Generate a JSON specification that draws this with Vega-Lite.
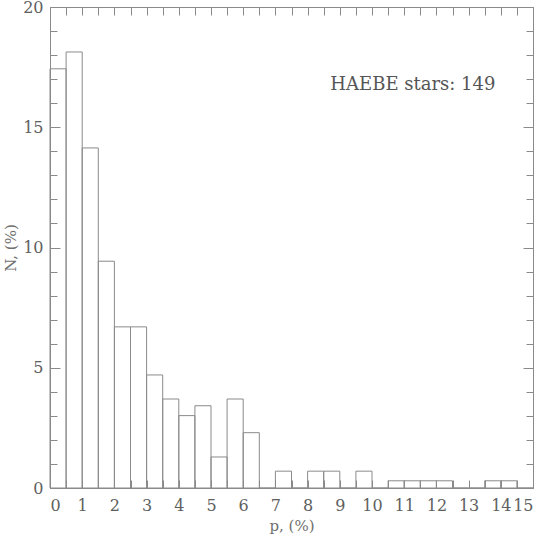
{
  "$schema": "https://vega.github.io/schema/vega-lite/v6.json",
  "autosize": "none",
  "width": 483,
  "height": 481,
  "padding": {"left": 50, "top": 7, "right": 10, "bottom": 49},
  "background": "white",
  "config": {
    "view": {"stroke": "#8a8a8a", "strokeWidth": 1},
    "axis": {"domain": false, "labelOverlap": false, "labelBound": false, "tickColor": "#8a8a8a", "gridColor": "#8a8a8a", "gridOpacity": 1, "gridWidth": 1, "labelColor": "#606060", "titleColor": "#707070", "labelFont": "DejaVu Serif", "titleFont": "DejaVu Serif", "labelFontWeight": "normal", "titleFontWeight": "normal"}
  },
  "data": {"values": [
    {"lo": 0.0, "hi": 0.5, "n": 17.43},
    {"lo": 0.5, "hi": 1.0, "n": 18.13},
    {"lo": 1.0, "hi": 1.5, "n": 14.14},
    {"lo": 1.5, "hi": 2.0, "n": 9.43},
    {"lo": 2.0, "hi": 2.5, "n": 6.70},
    {"lo": 2.5, "hi": 3.0, "n": 6.70},
    {"lo": 3.0, "hi": 3.5, "n": 4.70},
    {"lo": 3.5, "hi": 4.0, "n": 3.70},
    {"lo": 4.0, "hi": 4.5, "n": 3.01},
    {"lo": 4.5, "hi": 5.0, "n": 3.42},
    {"lo": 5.0, "hi": 5.5, "n": 1.29},
    {"lo": 5.5, "hi": 6.0, "n": 3.70},
    {"lo": 6.0, "hi": 6.5, "n": 2.30},
    {"lo": 6.5, "hi": 7.0, "n": 0},
    {"lo": 7.0, "hi": 7.5, "n": 0.70},
    {"lo": 7.5, "hi": 8.0, "n": 0},
    {"lo": 8.0, "hi": 8.5, "n": 0.70},
    {"lo": 8.5, "hi": 9.0, "n": 0.70},
    {"lo": 9.0, "hi": 9.5, "n": 0},
    {"lo": 9.5, "hi": 10.0, "n": 0.70},
    {"lo": 10.0, "hi": 10.5, "n": 0},
    {"lo": 10.5, "hi": 11.0, "n": 0.30},
    {"lo": 11.0, "hi": 11.5, "n": 0.30},
    {"lo": 11.5, "hi": 12.0, "n": 0.30},
    {"lo": 12.0, "hi": 12.5, "n": 0.30},
    {"lo": 12.5, "hi": 13.0, "n": 0},
    {"lo": 13.0, "hi": 13.5, "n": 0},
    {"lo": 13.5, "hi": 14.0, "n": 0.30},
    {"lo": 14.0, "hi": 14.5, "n": 0.30},
    {"lo": 14.5, "hi": 15.0, "n": 0}
  ]},
  "layer": [
    {
      "mark": {"type": "rect", "fill": null, "fillOpacity": 0, "stroke": "#8a8a8a", "strokeWidth": 1},
      "encoding": {
        "x": {"field": "lo", "type": "quantitative", "scale": {"domain": [0, 15], "nice": false, "zero": false},
          "axis": {"orient": "bottom", "values": [0,0.5,1,1.5,2,2.5,3,3.5,4,4.5,5,5.5,6,6.5,7,7.5,8,8.5,9,9.5,10,10.5,11,11.5,12,12.5,13,13.5,14,14.5,15], "labelExpr": "datum.value % 1 === 0 ? format(datum.value, 'd') : ''", "ticks": false, "grid": true, "gridDash": [8, 465, 8, 1000], "labelPadding": 9, "labelFontSize": 16, "title": "p, (%)", "titleFontSize": 15, "titlePadding": 5}},
        "x2": {"field": "hi"},
        "y": {"field": "n", "type": "quantitative", "scale": {"domain": [0, 20], "nice": false},
          "axis": {"orient": "left", "values": [0,1,2,3,4,5,6,7,8,9,10,11,12,13,14,15,16,17,18,19,20], "labelExpr": "datum.value % 5 === 0 ? format(datum.value, 'd') : ''", "ticks": false, "grid": true, "gridDash": {"condition": {"test": "datum.value % 5 === 0", "value": [10, 463, 10, 1000]}, "value": [7, 469, 7, 1000]}, "labelPadding": 7, "labelFontSize": 16, "title": "N, (%)", "titleFontSize": 15, "titlePadding": 4}},
        "y2": {"datum": 0}
      }
    },
    {
      "mark": {"type": "text", "font": "DejaVu Serif", "fontSize": 18, "color": "#555555", "align": "center", "baseline": "middle"},
      "data": {"values": [{"tx": 11.27, "ty": 16.75, "label": "HAEBE stars: 149"}]},
      "encoding": {
        "x": {"field": "tx", "type": "quantitative", "scale": {"domain": [0, 15], "nice": false, "zero": false},
          "axis": {"orient": "bottom", "values": [0,0.5,1,1.5,2,2.5,3,3.5,4,4.5,5,5.5,6,6.5,7,7.5,8,8.5,9,9.5,10,10.5,11,11.5,12,12.5,13,13.5,14,14.5,15], "labelExpr": "datum.value % 1 === 0 ? format(datum.value, 'd') : ''", "ticks": false, "grid": true, "gridDash": [8, 465, 8, 1000], "labelPadding": 9, "labelFontSize": 16, "title": "p, (%)", "titleFontSize": 15, "titlePadding": 5}},
        "y": {"field": "ty", "type": "quantitative", "scale": {"domain": [0, 20], "nice": false},
          "axis": {"orient": "left", "values": [0,1,2,3,4,5,6,7,8,9,10,11,12,13,14,15,16,17,18,19,20], "labelExpr": "datum.value % 5 === 0 ? format(datum.value, 'd') : ''", "ticks": false, "grid": true, "gridDash": {"condition": {"test": "datum.value % 5 === 0", "value": [10, 463, 10, 1000]}, "value": [7, 469, 7, 1000]}, "labelPadding": 7, "labelFontSize": 16, "title": "N, (%)", "titleFontSize": 15, "titlePadding": 4}},
        "text": {"field": "label"}
      }
    }
  ]
}
